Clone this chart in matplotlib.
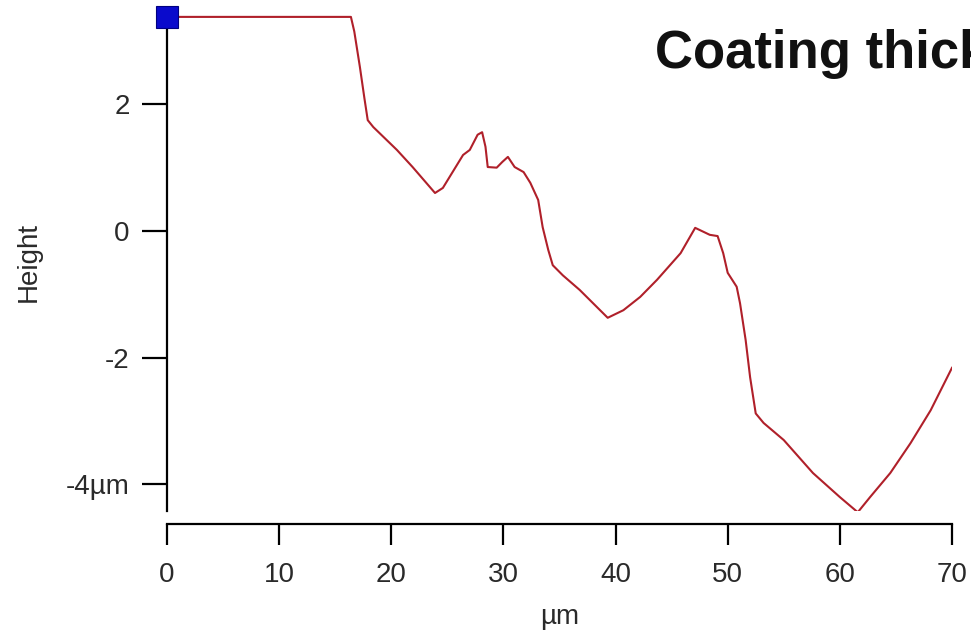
import matplotlib
matplotlib.use("Agg")
import matplotlib.pyplot as plt

plt.rcParams['font.family'] = ['Liberation Sans', 'DejaVu Sans']

# profile (x in um, height in um)
pos_um = [0, 16.4, 16.7, 17.2, 17.6, 17.9, 18.4, 20.5, 21.9, 23.9, 24.6,
          26.4, 27.0, 27.7, 28.1, 28.4, 28.6, 29.4, 29.9, 30.4, 31.0, 31.8,
          32.4, 33.1, 33.5, 34.0, 34.4, 35.3, 36.8, 39.3, 40.7, 42.2, 43.7,
          45.8, 47.1, 48.4, 49.1, 49.6, 50.0, 50.8, 51.1, 51.6, 52.0, 52.5,
          53.2, 55.0, 57.6, 60.0, 61.6, 62.7, 64.5, 66.3, 68.1, 70.0]
height_um = [3.38, 3.38, 3.15, 2.59, 2.10, 1.75, 1.64, 1.28, 1.01, 0.60, 0.68,
             1.20, 1.28, 1.52, 1.56, 1.33, 1.01, 1.00, 1.09, 1.17, 1.01, 0.93,
             0.76, 0.49, 0.06, -0.30, -0.54, -0.70, -0.93, -1.37, -1.25, -1.04, -0.77,
             -0.35, 0.05, -0.06, -0.08, -0.35, -0.66, -0.88, -1.14, -1.72, -2.31, -2.88,
             -3.03, -3.30, -3.82, -4.20, -4.44, -4.20, -3.82, -3.35, -2.83, -2.16]

xticks = [0, 10, 20, 30, 40, 50, 60, 70]
yticks = [2, 0, -2, -4]
ytick_labels = ["2", "0", "-2", "-4\u00b5m"]

fig = plt.figure(figsize=(9.71, 6.37), dpi=100)
ax = fig.add_axes([0.172, 0.1978, 0.8084, 0.7896])

ax.plot(pos_um, height_um, color='#b0202a', lw=1.5)
# cursor marker on the first point
ax.plot(pos_um[0], height_um[0], marker='s', ms=16, color='#0a0acc',
        mec='#000080', mew=0.8, clip_on=False, zorder=5)

ax.set_xlim(0, 70)
ax.set_ylim(-4.42, 3.52)

for s in ['top', 'right']:
    ax.spines[s].set_visible(False)
ax.spines['left'].set_linewidth(1.6)
ax.spines['bottom'].set_linewidth(1.6)
ax.spines['bottom'].set_position(('outward', 9.4))

ax.set_xticks(xticks)
ax.set_xticklabels([str(t) for t in xticks])
ax.set_yticks(yticks)
ax.set_yticklabels(ytick_labels)
ax.tick_params(axis='x', direction='out', length=15, width=1.6, pad=12,
               labelsize=20, labelcolor='#2a2a2a')
ax.tick_params(axis='y', direction='out', length=18, width=1.6, pad=9,
               labelsize=20, labelcolor='#2a2a2a')

ax.set_xlabel("\u00b5m", fontsize=20, color='#2a2a2a', labelpad=12)
ax.set_ylabel("Height", fontsize=20, color='#2a2a2a')
ax.yaxis.set_label_coords(-0.159, 0.495)

fig.text(0.6746, 0.893, "Coating thickness", fontsize=38, fontweight='bold',
         va='baseline', ha='left', color='#111111')

fig.savefig("out.png", dpi=100)
